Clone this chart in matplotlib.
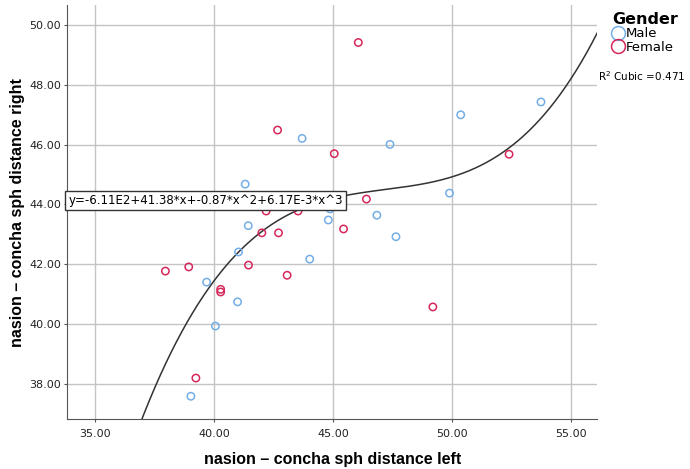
import numpy as np
import matplotlib.pyplot as plt
from matplotlib.lines import Line2D

# values
male_left = [53.73, 50.36, 47.39, 49.89, 46.84, 47.64, 44.80, 44.87, 41.31,
             41.44, 41.03, 44.02, 39.69, 40.99, 40.06, 39.03, 43.70]
male_right = [47.43, 47.00, 46.01, 44.38, 43.64, 42.92, 43.48, 43.85, 44.68,
              43.29, 42.41, 42.17, 41.40, 40.74, 39.93, 37.58, 46.21]
female_left = [46.06, 42.67, 45.05, 52.39, 46.40, 45.44, 42.19, 43.53, 42.01,
               42.71, 41.45, 37.96, 38.94, 43.07, 40.28, 40.28, 39.24, 49.19]
female_right = [49.42, 46.49, 45.70, 45.68, 44.18, 43.18, 43.78, 43.78, 43.05,
                43.05, 41.97, 41.77, 41.91, 41.63, 41.16, 41.07, 38.19, 40.57]

x_ticks = [35, 40, 45, 50, 55]
y_ticks = [38, 40, 42, 44, 46, 48, 50]

fit_text = "y=-6.11E2+41.38*x+-0.87*x^2+6.17E-3*x^3"
r2_text = "R$^2$ Cubic =0.471"

male_col = "#74aee6"
female_col = "#d6275a"

fig = plt.figure(figsize=(6.9, 4.69), dpi=100)
ax = fig.add_axes([0.0975, 0.106, 0.768, 0.883])

# cubic fit over all points
all_x = np.array(male_left + female_left)
all_y = np.array(male_right + female_right)
coef = np.polyfit(all_x, all_y, 3)
xs = np.linspace(33.8, 56.1, 300)
ax.plot(xs, np.polyval(coef, xs), color="#333333", lw=1.1, zorder=2)

ax.scatter(male_left, male_right, s=28, facecolors="none", edgecolors=male_col, linewidths=1.1, zorder=3)
ax.scatter(female_left, female_right, s=28, facecolors="none", edgecolors=female_col, linewidths=1.1, zorder=3)

ax.set_xlim(33.84, 56.09)
ax.set_ylim(36.81, 50.67)
ax.set_xticks(x_ticks)
ax.set_yticks(y_ticks)
ax.set_xticklabels([f"{v:.2f}" for v in x_ticks], fontsize=8, color="#222222")
ax.set_yticklabels([f"{v:.2f}" for v in y_ticks], fontsize=8, color="#222222")
ax.tick_params(axis="y", length=2, pad=2.5, color="#555555")
ax.tick_params(axis="x", length=2, pad=5, color="#555555")
ax.grid(True, color="#c4c4c4", lw=1)
ax.set_axisbelow(True)
for s in ["top", "right"]:
    ax.spines[s].set_visible(False)
for s in ["left", "bottom"]:
    ax.spines[s].set_color("#555555")

lab_font = dict(fontsize=11.5, fontweight="bold", family="Liberation Sans")
ax.set_xlabel("nasion \u2013 concha sph distance left", labelpad=9, **lab_font)
ax.set_ylabel("nasion \u2013 concha sph distance right", labelpad=3, **lab_font)

ax.text(0.002, 0.529, fit_text, transform=ax.transAxes, fontsize=8.5, va="center", ha="left",
        bbox=dict(boxstyle="square,pad=0.25", fc="white", ec="#333333", lw=1), zorder=5)

handles = [Line2D([], [], marker="o", ls="none", ms=10, mfc="none", mec=male_col, mew=1.1),
           Line2D([], [], marker="o", ls="none", ms=10, mfc="none", mec=female_col, mew=1.1)]
leg = fig.legend(handles, ["Male", "Female"], title="Gender", loc="upper left",
                 bbox_to_anchor=(0.874, 0.995), frameon=False, fontsize=9.5,
                 handlelength=0.9, handletextpad=0.15, labelspacing=0.05, borderpad=0.2)
leg.get_title().set_fontweight("bold")
leg.get_title().set_fontsize(11.5)
leg._legend_box.align = "left"
fig.text(0.867, 0.838, r2_text, fontsize=7.5, ha="left", va="center")

fig.savefig("out.png", dpi=100)
